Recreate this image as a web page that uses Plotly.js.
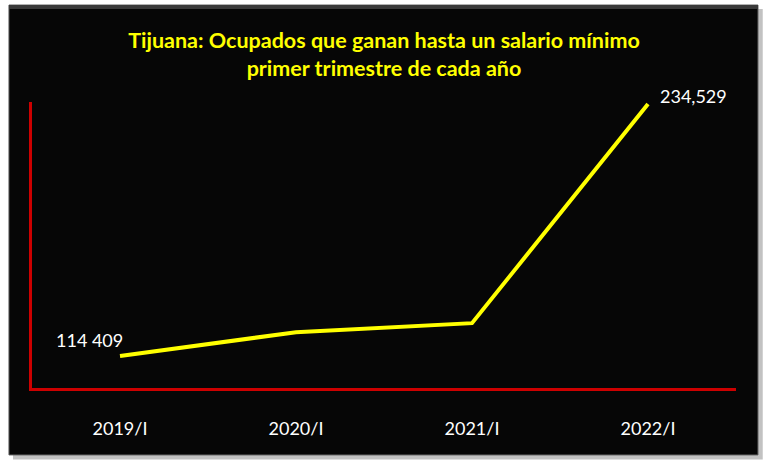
<!DOCTYPE html>
<html>
<head>
<meta charset="utf-8">
<script src="https://cdn.plot.ly/plotly-3.0.1.min.js"></script>
<style>
  html, body { margin: 0; padding: 0; background: #fff; }
  #grafica { width: 768px; height: 468px; }
</style>
</head>
<body>
<div id="grafica"></div>
<script>
// datos
var periodos = ['2019/I', '2020/I', '2021/I', '2022/I'];
var ocupados = [114409, 125800, 130100, 234529];
var etiquetas = ['114 409', '', '', '234,529'];

var traza = {
  x: periodos,
  y: ocupados,
  type: 'scatter',
  mode: 'lines',
  line: { color: '#ffff00', width: 4 },
  hoverinfo: 'skip'
};

// etiquetas de datos (solo primera y ultima)
var notas = [];
for (var i = 0; i < periodos.length; i++) {
  if (etiquetas[i] == '') continue;
  var ultima = (i == periodos.length - 1);
  notas.push({
    x: periodos[i],
    y: ocupados[i],
    xref: 'x', yref: 'y',
    text: etiquetas[i],
    showarrow: false,
    xanchor: ultima ? 'left' : 'right',
    xshift: ultima ? 10 : 5,
    yshift: ultima ? 8 : 16,
    font: { family: 'Lato, sans-serif', size: 18, color: '#ffffff' }
  });
}

var layout = {
  width: 768,
  height: 468,
  margin: { l: 32, r: 32, t: 102, b: 80 },
  paper_bgcolor: '#ffffff',
  plot_bgcolor: 'rgba(0,0,0,0)',
  showlegend: false,
  title: {
    text: '<b>Tijuana: Ocupados que ganan hasta un salario mínimo<br>primer trimestre de cada año</b>',
    font: { family: 'Lato, sans-serif', size: 21.5, color: '#ffff00' },
    x: 0.5,
    xanchor: 'center',
    y: 0.898,
    yanchor: 'middle'
  },
  xaxis: {
    type: 'category',
    range: [-0.5, 3.5],
    showline: true,
    linecolor: '#cc0000',
    linewidth: 3,
    showgrid: false,
    zeroline: false,
    ticks: '',
    ticklabelstandoff: 22,
    tickfont: { family: 'Lato, sans-serif', size: 18, color: '#ffffff' },
    fixedrange: true
  },
  yaxis: {
    range: [99200, 235500],
    showline: true,
    linecolor: '#cc0000',
    linewidth: 3,
    showgrid: false,
    zeroline: false,
    showticklabels: false,
    ticks: '',
    fixedrange: true
  },
  annotations: notas,
  shapes: [
    // sombra
    { type: 'rect', xref: 'paper', yref: 'paper', layer: 'below',
      x0: -0.0270, x1: 1.0380, y0: -0.2500, y1: 1.3250,
      fillcolor: '#9a9a9a', line: { width: 0 }, opacity: 0.6 },
    // marco negro
    { type: 'rect', xref: 'paper', yref: 'paper', layer: 'below',
      x0: -0.0327, x1: 1.0312, y0: -0.2340, y1: 1.3390,
      fillcolor: '#060606', line: { color: '#5a5a5a', width: 1 } },
    // brillo superior
    { type: 'rect', xref: 'paper', yref: 'paper', layer: 'below',
      x0: -0.0327, x1: 1.0312, y0: 1.3250, y1: 1.3390,
      fillcolor: '#3a3a3a', line: { width: 0 } }
  ]
};

Plotly.newPlot('grafica', [traza], layout, { displayModeBar: false, staticPlot: true });
</script>
</body>
</html>
